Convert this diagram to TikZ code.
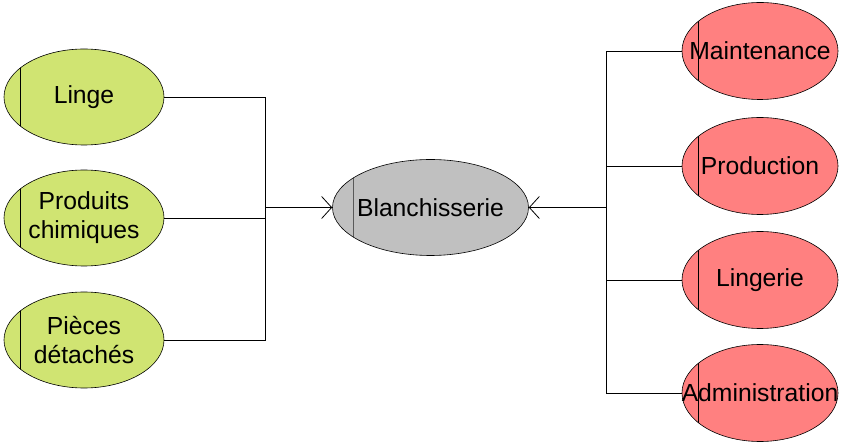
\documentclass[tikz,border=0pt]{standalone}
\usepackage{fontspec}
\setmainfont{Liberation Sans}
\usetikzlibrary{shapes.geometric,arrows.meta}
\definecolor{vert}{RGB}{208,228,114}
\definecolor{rouge}{RGB}{255,128,128}
\definecolor{gris}{RGB}{192,192,192}
\tikzset{
  ent/.style={ellipse,draw=black,line width=0.6pt,inner ysep=0pt,inner xsep=-40pt,align=center,
    font=\fontsize{24.7}{29}\selectfont},
  bar/.style={path picture={\draw[line width=0.9pt,#1]
      ([xshift=16pt]path picture bounding box.south west) --
      ([xshift=16pt]path picture bounding box.north west);}},
  leftent/.style={ent,fill=vert,minimum width=160pt,minimum height=96pt,bar=black},
  rightent/.style={ent,fill=rouge,minimum width=156pt,minimum height=97pt,bar=black},
  cent/.style={ent,fill=gris,minimum width=196pt,minimum height=96pt,
    path picture={\draw[line width=1pt,black!65]
      ([xshift=21pt]path picture bounding box.south west) --
      ([xshift=21pt]path picture bounding box.north west);}},
  conn/.style={line width=0.8pt,black},
  arr/.style={conn,-{Straight Barb[length=10pt,width=22pt,line width=0.8pt]}}
}
\begin{document}
\begin{tikzpicture}[x=1pt,y=-1pt]
\useasboundingbox (0,0) rectangle (843,443);
\node[leftent] (linge) at (84,97) {Linge};
\node[leftent] (prod) at (84,218) {Produits\\chimiques};
\node[leftent] (pieces) at (84,340) {Pièces\\détachés};
\node[cent] (blanch) at (430.5,207.5) {Blanchisserie};
\node[rightent] (maint) at (760,51) {Maintenance};
\node[rightent] (produc) at (760,166) {Production};
\node[rightent] (linger) at (760,280) {Lingerie};
\node[rightent] (admin) at (760,393) {Administration};
\coordinate (jl) at (265,207.5);
\coordinate (jr) at (606,207.5);
\draw[conn] (linge.east) -| (jl);
\draw[conn] (pieces.east) -| (jl);
\draw[conn] (prod.east) -- (prod.east -| jl);
\draw[arr] (jl) -- (blanch.west);
\draw[conn] (maint.west) -| (jr);
\draw[conn] (admin.west) -| (jr);
\draw[conn] (produc.west) -- (produc.west -| jr);
\draw[conn] (linger.west) -- (linger.west -| jr);
\draw[arr] (jr) -- (blanch.east);
\end{tikzpicture}
\end{document}
